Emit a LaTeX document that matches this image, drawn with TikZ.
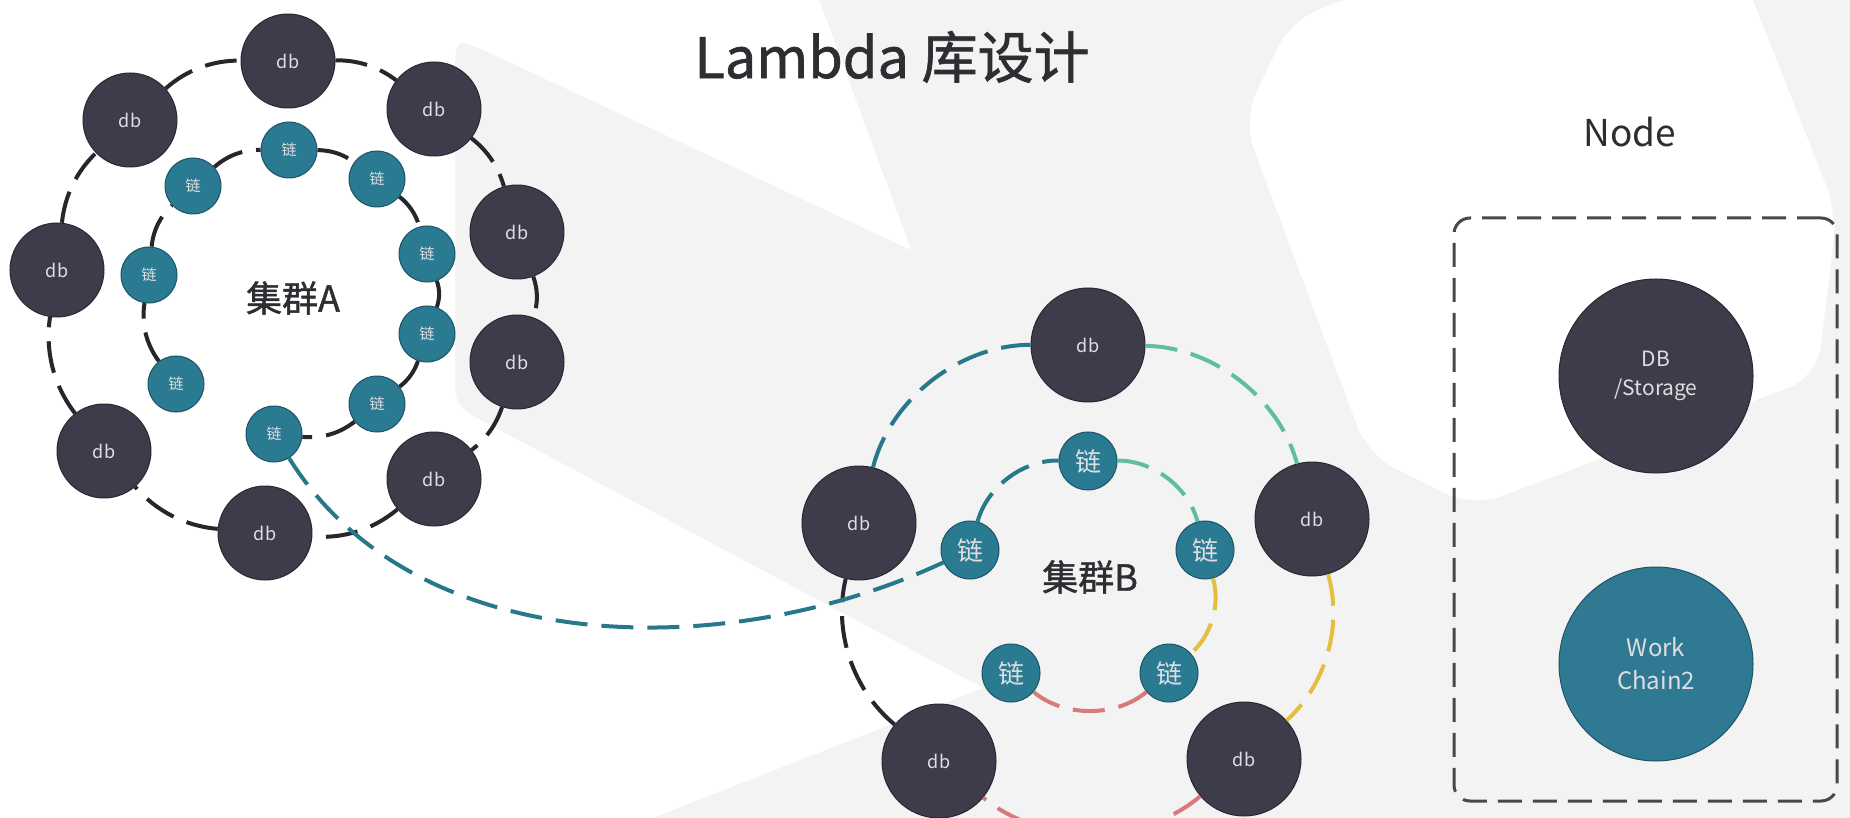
\documentclass[tikz,border=0pt]{standalone}
\usepackage{fontspec}
\newfontfamily\cjk{Noto Sans CJK SC}
\newfontfamily\cjkbold{Noto Sans CJK SC}[FakeBold=1.2]
\definecolor{bggray}{RGB}{243,243,244}
\definecolor{dbfill}{RGB}{62,60,75}
\definecolor{dbedge}{RGB}{40,39,50}
\definecolor{chfill}{RGB}{42,122,146}
\definecolor{chedge}{RGB}{28,84,102}
\definecolor{wcfill}{RGB}{47,122,146}
\definecolor{tealline}{RGB}{40,120,140}
\definecolor{greenline}{RGB}{96,190,160}
\definecolor{yellowline}{RGB}{228,190,62}
\definecolor{pinkline}{RGB}{216,122,122}
\definecolor{blackline}{RGB}{38,38,44}
\definecolor{boxline}{RGB}{72,72,76}
\definecolor{txt}{RGB}{45,45,50}
\definecolor{lbl}{RGB}{222,222,226}
\begin{document}
\begin{tikzpicture}[x=1pt,y=1pt,
  dbA/.style={circle, fill=dbfill, draw=dbedge, line width=1pt, minimum size=94pt, inner sep=0pt, text=lbl, font=\cjk\fontsize{18}{20}\selectfont},
  dbB/.style={dbA, minimum size=114pt},
  chA/.style={circle, fill=chfill, draw=chedge, line width=1pt, minimum size=56pt, inner sep=0pt, text=lbl, font=\cjk\fontsize{15}{16}\selectfont},
  chB/.style={chA, minimum size=58pt, font=\cjk\fontsize{26}{28}\selectfont},
  bigc/.style={circle, minimum size=194pt, inner sep=0pt, align=center, line width=1pt},
  ring/.style={line width=4pt, dash pattern=on 32pt off 14pt, looseness=0.9},
  ringk/.style={ring, draw=blackline},
  ringt/.style={ring, draw=tealline},
  ringg/.style={ring, draw=greenline},
  ringy/.style={ring, draw=yellowline},
  ringp/.style={ring, draw=pinkline},
  label/.style={text=txt, inner sep=0pt}
]
\useasboundingbox (0,0) rectangle (1850,-818);
% background
\fill[bggray] (0,0) rectangle (1850,-818);
\fill[white] (-50,50) -- (801,50) -- (911,-250) -- (492,-54) .. controls (455,-37) .. (455,-77) -- (455,-370) .. controls (455,-406) .. (490,-425) -- (983,-688) -- (526,-868) -- (-50,-868) -- cycle;
\fill[white, rounded corners=30pt] (1476,50) -- (1733,50) -- (1837,-213) -- (1817,-377) -- (1473,-507) -- (1368,-455) -- (1243,-120) -- (1291,-20) -- cycle;

% titles
\node[label, font=\cjkbold\fontsize{56}{60}\selectfont] (title) at (892,-57) {Lambda 库设计};
\node[label, font=\cjk\fontsize{37}{40}\selectfont] (nodet) at (1630,-132) {Node};
\node[label, font=\cjkbold\fontsize{36}{40}\selectfont] (clA) at (293,-298) {集群A};
\node[label, font=\cjkbold\fontsize{36}{40}\selectfont] (clB) at (1090,-577) {集群B};

% cluster A
\node[dbA] (A1) at (288,-61) {db};
\node[dbA] (A2) at (434,-109) {db};
\node[dbA] (A3) at (517,-232) {db};
\node[dbA] (A4) at (517,-362) {db};
\node[dbA] (A5) at (434,-479) {db};
\node[dbA] (A6) at (265,-533) {db};
\node[dbA] (A7) at (104,-451) {db};
\node[dbA] (A8) at (57,-270) {db};
\node[dbA] (A9) at (130,-120) {db};
\node[chA] (a1) at (289,-150) {链};
\node[chA] (a2) at (377,-179) {链};
\node[chA] (a3) at (427,-254) {链};
\node[chA] (a4) at (427,-334) {链};
\node[chA] (a5) at (377,-404) {链};
\node[chA] (a6) at (274,-434) {链};
\node[chA] (a7) at (176,-384) {链};
\node[chA] (a8) at (149,-275) {链};
\node[chA] (a9) at (193,-186) {链};

% cluster B
\node[dbB] (Bt) at (1088,-345) {db};
\node[dbB] (Br) at (1312,-519) {db};
\node[dbB] (Bbr) at (1244,-759) {db};
\node[dbB] (Bbl) at (939,-761) {db};
\node[dbB] (Bl) at (859,-523) {db};
\node[chB] (bt) at (1088,-461) {链};
\node[chB] (br) at (1205,-550) {链};
\node[chB] (bbr) at (1169,-673) {链};
\node[chB] (bbl) at (1011,-673) {链};
\node[chB] (bl) at (970,-550) {链};

% right panel
\node[draw=boxline, line width=3pt, dash pattern=on 24pt off 11pt, rounded corners=16pt, minimum width=383pt, minimum height=583pt, inner sep=0pt] (box) at (1645.5,-509.5) {};
\node[bigc, fill=dbfill, draw=dbedge, text=lbl, font=\cjk\fontsize{21}{29}\selectfont] (stor) at (1656,-376) {DB\\/Storage};
\node[bigc, fill=wcfill, draw=chedge, text=lbl, font=\cjk\fontsize{24}{33}\selectfont] (wc) at (1656,-664) {Work\\Chain2};

% cluster A rings
\draw[ringk] (A1) to[bend left=19] (A2);
\draw[ringk] (A2) to[bend left=18] (A3);
\draw[ringk] (A3) to[bend left=20] (A4);
\draw[ringk] (A4) to[bend left=17] (A5);
\draw[ringk] (A5) to[bend left=22] (A6);
\draw[ringk] (A6) to[bend left=22] (A7);
\draw[ringk] (A7) to[bend left=23] (A8);
\draw[ringk] (A8) to[bend left=20] (A9);
\draw[ringk] (A9) to[bend left=21] (A1);
\draw[ringk] (a1) to[bend left=18] (a2);
\draw[ringk] (a2) to[bend left=18] (a3);
\draw[ringk] (a3) to[bend left=20] (a4);
\draw[ringk] (a4) to[bend left=17] (a5);
\draw[ringk] (a5) to[bend left=22] (a6);
\draw[ringk] (a7) to[bend left=23] (a8);
\draw[ringk] (a8) to[bend left=21] (a9);
\draw[ringk] (a9) to[bend left=21] (a1);

% cluster B rings
\draw[ringt] (Bl) to[bend left=38] (Bt);
\draw[ringg] (Bt) to[bend left=37] (Br);
\draw[ringy] (Br) to[bend left=32] (Bbr);
\draw[ringp] (Bbr) to[bend left=40] (Bbl);
\draw[ringk] (Bbl) to[bend left=32] (Bl);
\draw[ringt] (bl) to[bend left=38] (bt);
\draw[ringg] (bt) to[bend left=38] (br);
\draw[ringy] (br) to[bend left=32] (bbr);
\draw[ringp] (bbr) to[bend left=40] (bbl);

% link between clusters
\draw[ringt, looseness=0.92] (a6) to[out=-58, in=205] (bl);
\end{tikzpicture}
\end{document}
